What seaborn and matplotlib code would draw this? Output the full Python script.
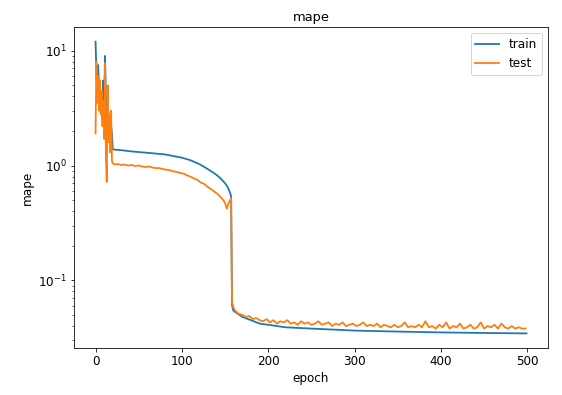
import numpy as np
import pandas as pd
import matplotlib
matplotlib.use("Agg")
import matplotlib.pyplot as plt
import seaborn as sns

# Early epochs (0-20), one value per epoch
early_epochs = list(range(0, 21))
train_early = [12.0, 6.5, 4.5, 7.5, 5.0, 3.5, 4.2, 3.0, 2.6, 5.5, 3.8,
               9.0, 4.0, 2.2, 3.5, 2.8, 1.8, 2.5, 2.2, 1.9, 1.38]
test_early = [1.9, 8.0, 3.5, 6.0, 3.0, 5.5, 2.8, 4.5, 2.2, 3.6, 1.7,
              7.8, 1.2, 0.72, 5.0, 1.6, 2.8, 1.3, 3.0, 1.1, 1.04]

# Plateau and collapse of the training curve
train_mid_epochs = [30, 40, 50, 60, 70, 80, 90, 100, 110, 120, 125, 130, 135,
                    140, 145, 150, 153, 155, 156, 157, 158, 159, 160, 165, 170,
                    180, 190, 200, 220, 250, 300, 350, 400, 450, 499]
train_mid = [1.36, 1.33, 1.31, 1.29, 1.27, 1.25, 1.21, 1.17, 1.11, 1.03, 0.98,
             0.93, 0.88, 0.83, 0.77, 0.70, 0.65, 0.60, 0.57, 0.54, 0.062, 0.056,
             0.054, 0.051, 0.048, 0.045, 0.042, 0.041, 0.039, 0.038, 0.0365,
             0.0358, 0.0352, 0.0348, 0.0345]

# Plateau and collapse of the test curve
test_mid_epochs = [23, 26, 30, 34, 38, 42, 46, 50, 54, 58, 62, 66, 70, 74, 78,
                   82, 86, 90, 94, 98, 102, 106, 110, 114, 118, 122, 126, 130,
                   134, 138, 142, 146, 148, 150, 152, 154, 156, 157, 158, 160]
test_mid = [1.02, 1.03, 1.01, 1.02, 1.00, 1.01, 0.99, 1.00, 0.98, 0.97, 0.98,
            0.96, 0.95, 0.95, 0.93, 0.92, 0.91, 0.89, 0.88, 0.86, 0.85, 0.82,
            0.80, 0.77, 0.75, 0.71, 0.69, 0.65, 0.62, 0.59, 0.56, 0.52, 0.50,
            0.47, 0.42, 0.47, 0.50, 0.52, 0.065, 0.057]

# Late epochs of the test curve, every 4 epochs
test_late = [0.054, 0.051, 0.050, 0.048, 0.049, 0.046, 0.047, 0.045, 0.044,
             0.046, 0.043, 0.045, 0.042, 0.044, 0.043, 0.045, 0.042, 0.043,
             0.041, 0.044, 0.042, 0.043, 0.041, 0.042, 0.044, 0.041, 0.042,
             0.043, 0.040, 0.042, 0.041, 0.043, 0.040, 0.041, 0.042, 0.040,
             0.041, 0.043, 0.040, 0.041, 0.040, 0.042, 0.039, 0.041, 0.040,
             0.039, 0.041, 0.039, 0.040, 0.043, 0.039, 0.040, 0.039, 0.041,
             0.039, 0.044, 0.039, 0.040, 0.038, 0.041, 0.039, 0.043, 0.038,
             0.040, 0.039, 0.042, 0.038, 0.039, 0.041, 0.038, 0.039, 0.043,
             0.038, 0.040, 0.039, 0.041, 0.038, 0.042, 0.039, 0.038, 0.040,
             0.038, 0.039, 0.038, 0.038]
test_late_epochs = list(range(162, 162 + 4 * len(test_late), 4))

train_df = pd.DataFrame({"epoch": early_epochs + train_mid_epochs,
                         "mape": train_early + train_mid})
test_df = pd.DataFrame({"epoch": early_epochs + test_mid_epochs + test_late_epochs,
                        "mape": test_early + test_mid + test_late})

plt.rcParams["font.size"] = 12

fig = plt.figure(figsize=(562 / 72, 395 / 72), dpi=72)
ax = fig.add_axes([74 / 562, 47 / 395, 474 / 562, 321 / 395])

sns.lineplot(data=train_df, x="epoch", y="mape", ax=ax, color="#1f77b4",
             label="train", linewidth=1.8, sort=False)
sns.lineplot(data=test_df, x="epoch", y="mape", ax=ax, color="#ff7f0e",
             label="test", linewidth=1.8, sort=False)

ax.set_yscale("log")
ax.set_title("mape", fontsize=13)
ax.set_xlabel("epoch", fontsize=12)
ax.set_ylabel("mape", fontsize=12)
ax.set_xticks([0, 100, 200, 300, 400, 500])
ax.tick_params(labelsize=12)
ax.legend(loc="upper right", fontsize=12)

fig.savefig("out.png", dpi=72)
